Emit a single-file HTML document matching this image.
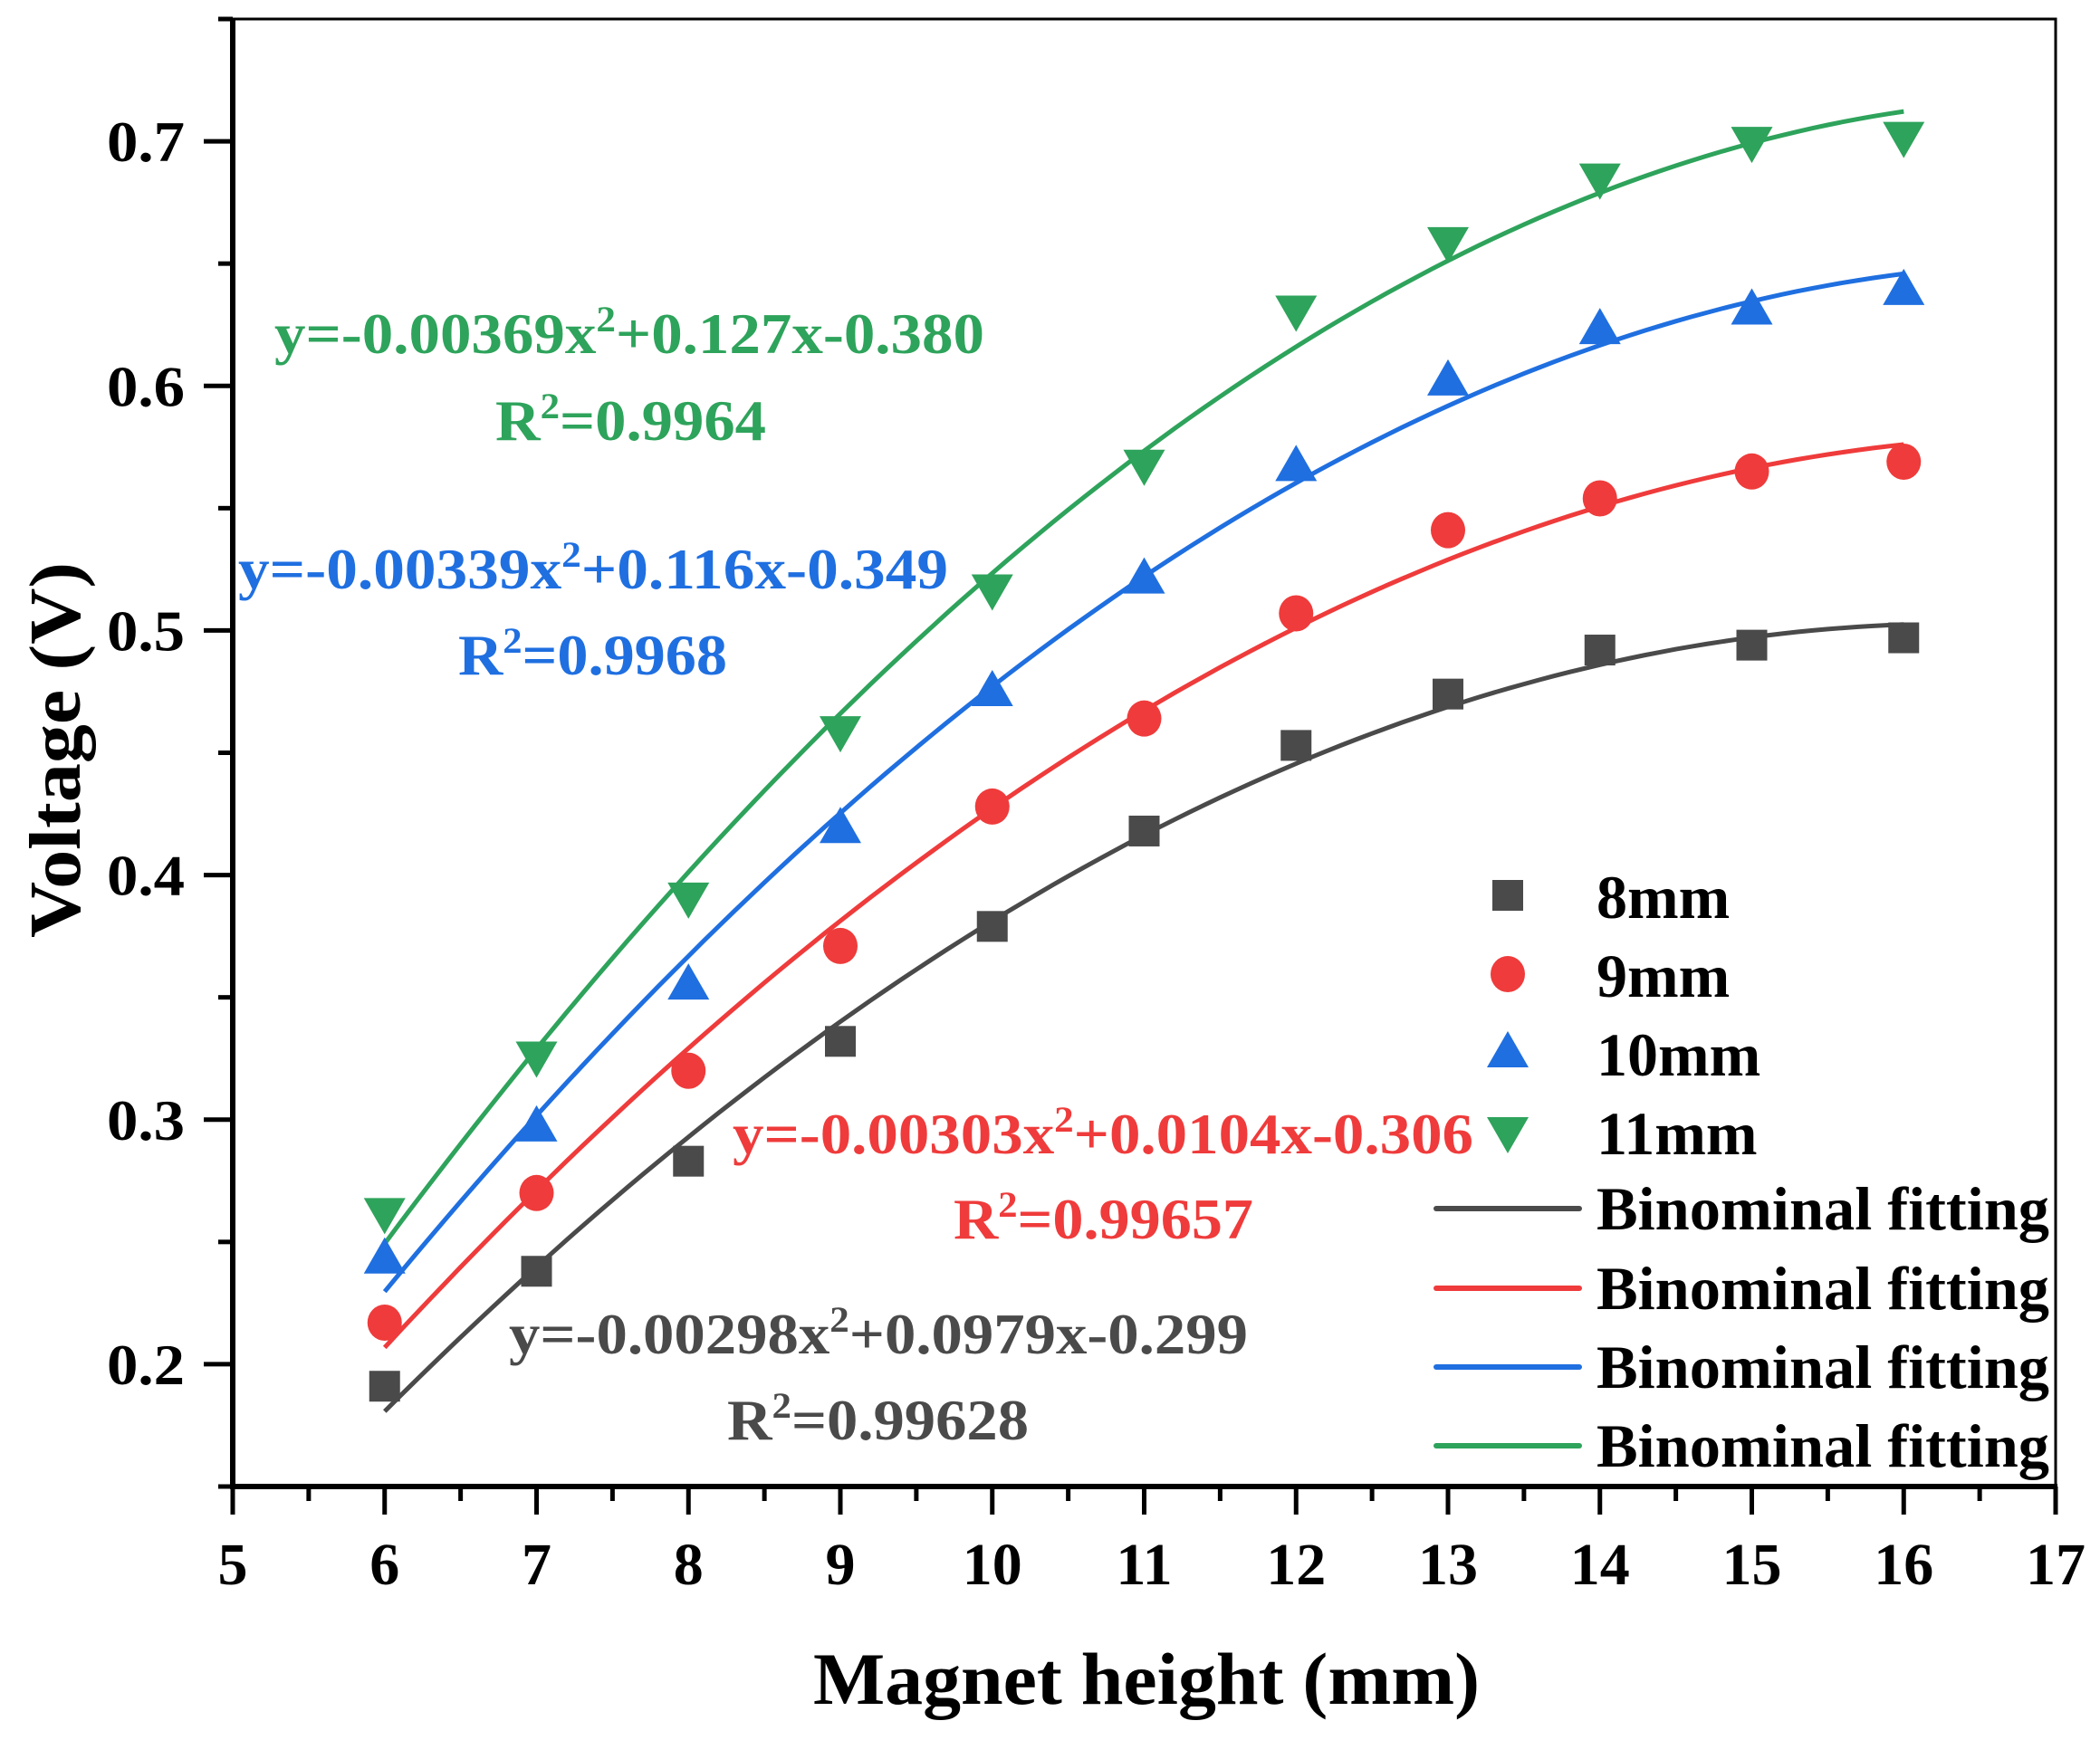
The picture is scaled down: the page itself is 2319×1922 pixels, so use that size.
<!DOCTYPE html>
<html><head><meta charset="utf-8"><style>
html,body{margin:0;padding:0;background:#fff;}
svg{display:block;}
text{font-family:"Liberation Serif",serif;font-weight:bold;}
</style></head><body>
<svg id="chart" width="2319" height="1922" viewBox="0 0 2319 1922" xmlns="http://www.w3.org/2000/svg">
<g id="grid"></g>
<g id="fits"></g>
<g id="marks"></g>
<g id="axes"></g>
<g id="ann"></g>
<g id="legend"></g>
</svg>
<script>
const xs = [6,7,8,9,10,11,12,13,14,15,16];
const v8 = [0.191,0.238,0.283,0.332,0.379,0.418,0.453,0.474,0.492,0.494,0.497];
const v9 = [0.217,0.270,0.320,0.371,0.428,0.464,0.507,0.541,0.554,0.565,0.569];
const v10 = [0.243,0.297,0.355,0.419,0.475,0.521,0.567,0.602,0.623,0.631,0.639];
const v11 = [0.262,0.326,0.391,0.459,0.517,0.568,0.631,0.659,0.685,0.700,0.702];
const seriesNames = ["8mm","9mm","10mm","11mm"];
const xTicks = [5,6,7,8,9,10,11,12,13,14,15,16,17];
const yTicks = [0.2,0.3,0.4,0.5,0.6,0.7];
const yTickLabels = ["0.2","0.3","0.4","0.5","0.6","0.7"];
const eqLabels = ["y=-0.00298x","y=-0.00303x","y=-0.00339x","y=-0.00369x"];
const eqTails = ["+0.0979x-0.299","+0.0104x-0.306","+0.116x-0.349","+0.127x-0.380"];
const r2Labels = ["0.99628","0.99657","0.9968","0.9964"];

const NS="http://www.w3.org/2000/svg";
const L=257,R=2270,T=21,B=1642,X0=5,X1=17,Y0=0.15,Y1=0.75;
const sx=x=>L+(x-X0)/(X1-X0)*(R-L);
const sy=y=>B-(y-Y0)/(Y1-Y0)*(B-T);
const colors=["#4a4a4a","#ef3b3b","#1f6fe0","#2ea35b"];
function el(tag,attrs,parent){const e=document.createElementNS(NS,tag);for(const k in attrs)e.setAttribute(k,attrs[k]);parent.appendChild(e);return e;}
const axes=document.getElementById('axes'),fits=document.getElementById('fits'),marks=document.getElementById('marks'),ann=document.getElementById('ann'),leg=document.getElementById('legend');

let f=el('rect',{x:L,y:T,width:R-L,height:B-T,fill:'none',stroke:'#000','stroke-width':3},axes);


let la=el('line',{x1:L,y1:T,x2:L,y2:B+2,stroke:'#000','stroke-width':6},axes);


let ba=el('line',{x1:L-3,y1:B,x2:R+2,y2:B,stroke:'#000','stroke-width':6},axes);



xTicks.forEach((t,i)=>{
  const x=sx(t);
  let tk=el('line',{x1:x,y1:B,x2:x,y2:B+31,stroke:'#000','stroke-width':5},axes);
  
  
  if(i<xTicks.length-1){
    let m=el('line',{x1:sx(t+0.5),y1:B,x2:sx(t+0.5),y2:B+16,stroke:'#000','stroke-width':5},axes);
    
    
  }
  let tx=el('text',{x:x,y:1750,'font-size':66,'text-anchor':'middle',fill:'#000'},axes);
  tx.textContent=String(t);
  
  
});
yTicks.forEach((t,i)=>{
  const y=sy(t);
  let tk=el('line',{x1:L-32,y1:y,x2:L,y2:y,stroke:'#000','stroke-width':5},axes);
  
  
  let tx=el('text',{x:204,y:y+22,'font-size':64,'text-anchor':'end',fill:'#000',textLength:86,lengthAdjust:'spacingAndGlyphs'},axes);
  tx.textContent=yTickLabels[i];
  
  
});
[0.15,0.25,0.35,0.45,0.55,0.65,0.75].forEach(t=>{
  const y=sy(t);
  let m=el('line',{x1:L-16,y1:y,x2:L,y2:y,stroke:'#000','stroke-width':5},axes);
  
  
});
let xt=el('text',{x:898,y:1882,'font-size':82,fill:'#000',textLength:736,lengthAdjust:'spacingAndGlyphs'},axes);
xt.textContent='Magnet height (mm)';


let yt=el('text',{x:-415,y:0,'font-size':80,fill:'#000',textLength:415,lengthAdjust:'spacingAndGlyphs',transform:'translate(88,621) rotate(-90)'},axes);
yt.setAttribute('x','-415');
yt.setAttribute('transform','translate(88,1036) rotate(-90)');
yt.setAttribute('x','0');
yt.textContent='Voltage (V)';



function quadFit(x,y){
  let S=[0,0,0,0,0],Ty=[0,0,0];
  for(let i=0;i<x.length;i++){let p=1;for(let k=0;k<5;k++){S[k]+=p;if(k<3)Ty[k]+=p*y[i];p*=x[i];}}
  const A=[[S[0],S[1],S[2],Ty[0]],[S[1],S[2],S[3],Ty[1]],[S[2],S[3],S[4],Ty[2]]];
  for(let i=0;i<3;i++){for(let j=i+1;j<3;j++){const r=A[j][i]/A[i][i];for(let k=i;k<4;k++)A[j][k]-=r*A[i][k];}}
  const c=[0,0,0];
  for(let i=2;i>=0;i--){let s=A[i][3];for(let k=i+1;k<3;k++)s-=A[i][k]*c[k];c[i]=s/A[i][i];}
  return c;
}
const allSeries=[v8,v9,v10,v11];
allSeries.forEach((vals,si)=>{
  const c=quadFit(xs,vals);
  let d='';
  for(let i=0;i<=100;i++){const x=6+i*0.1;const y=c[0]+c[1]*x+c[2]*x*x;d+=(i?'L':'M')+sx(x).toFixed(1)+' '+sy(y).toFixed(1);}
  let p=el('path',{d:d,fill:'none',stroke:colors[si],'stroke-width':5},fits);
  
  
});
function marker(type,cx,cy,col,parent){
  if(type===0) return el('rect',{x:cx-17,y:cy-17,width:34,height:34,fill:col},parent);
  if(type===1) return el('ellipse',{cx:cx,cy:cy,rx:19,ry:20,fill:col},parent);
  if(type===2) return el('polygon',{points:`${cx-23},${cy+16} ${cx+23},${cy+16} ${cx},${cy-24}`,fill:col},parent);
  return el('polygon',{points:`${cx-23},${cy-16} ${cx+23},${cy-16} ${cx},${cy+24}`,fill:col},parent);
}
allSeries.forEach((vals,si)=>{
  vals.forEach((v,i)=>{
    const m=marker(si,sx(xs[i]),sy(v),colors[si],marks);
    
    
  });
});

const annPos=[[562,1495,1378,803,1590,1136],[809,1274,1627,1053,1368,1384],[263,650,1047,506,745,803],[303,390,1087,547,486,846]];
annPos.forEach((p,si)=>{
  let t=el('text',{x:p[0],y:p[1],'font-size':64,fill:colors[si],textLength:p[2]-p[0],lengthAdjust:'spacingAndGlyphs'},ann);
  t.innerHTML=eqLabels[si]+'<tspan dy="-24" font-size="40">2</tspan><tspan dy="24">'+eqTails[si]+'</tspan>';
  
  
  let r=el('text',{x:p[3],y:p[4],'font-size':64,fill:colors[si],textLength:p[5]-p[3],lengthAdjust:'spacingAndGlyphs'},ann);
  r.innerHTML='R<tspan dy="-24" font-size="40">2</tspan><tspan dy="24">='+r2Labels[si]+'</tspan>';
  
  
});

const rowY=[989,1076,1163,1250,1335,1423,1510,1597];
for(let i=0;i<4;i++){
  const m=marker(i,1665,rowY[i],colors[i],leg);
  
  
  let t=el('text',{x:1763,y:rowY[i]+25,'font-size':68,fill:'#000'},leg);
  t.textContent=seriesNames[i];
  
  
}
for(let i=0;i<4;i++){
  const y=rowY[4+i];
  let l=el('line',{x1:1586,y1:y,x2:1744,y2:y,stroke:colors[i],'stroke-width':6,'stroke-linecap':'round'},leg);
  
  
  let t=el('text',{x:1763,y:y+23,'font-size':68,fill:'#000',textLength:500,lengthAdjust:'spacingAndGlyphs'},leg);
  t.textContent='Binominal fitting';
  
  
}
</script>
</body></html>
